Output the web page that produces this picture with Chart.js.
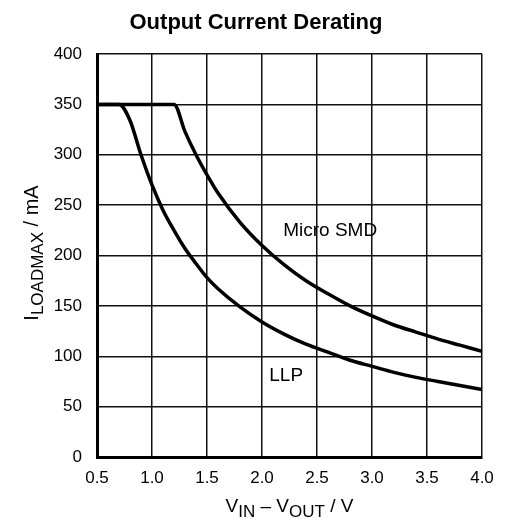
<!DOCTYPE html>
<html>
<head>
<meta charset="utf-8">
<script src="https://cdn.jsdelivr.net/npm/chart.js@4/dist/chart.umd.min.js"></script>
<style>
  html, body { margin: 0; padding: 0; background: #fff; }
  #wrap { width: 506px; height: 521px; }
</style>
</head>
<body>
<div id="wrap"><canvas id="derating"></canvas></div>
<script>
// values (V, mA)
const llpV   = [0.5, 0.7, 0.8, 0.9, 1.0, 1.1, 1.2, 1.3, 1.4, 1.5, 1.6, 1.8, 2.0, 2.2, 2.4, 2.6, 2.8, 3.0, 3.2, 3.4, 3.6, 3.8, 4.0];
const llpI   = [350, 350, 334, 300, 270, 245, 225, 207, 192, 178, 167, 149, 134, 122, 112, 104, 96, 90, 84, 79, 75, 71, 67];
const smdV   = [0.5, 1.2, 1.3, 1.4, 1.5, 1.6, 1.8, 2.0, 2.2, 2.4, 2.6, 2.8, 3.0, 3.2, 3.4, 3.6, 3.8, 4.0];
const smdI   = [350, 350, 323, 300, 280, 262, 233, 210, 191, 175, 162, 150, 140, 131, 124, 117, 111, 105];
const xTicks = [0.5, 1.0, 1.5, 2.0, 2.5, 3.0, 3.5, 4.0];
const yTicks = [0, 50, 100, 150, 200, 250, 300, 350, 400];

const FONT = "'Liberation Sans', Arial, Helvetica, sans-serif";

const toXY = (xs, ys) => xs.map((x, i) => ({ x: x, y: ys[i] }));

// text with subscripts: [text, isSub] pieces, drawn centered on x, baseline at 0
function drawRich(ctx, parts, size, subSize, drop) {
  let total = 0;
  parts.forEach(p => {
    ctx.font = (p[1] ? subSize : size) + "px " + FONT;
    total += ctx.measureText(p[0]).width;
  });
  let x = -total / 2;
  ctx.textAlign = "left";
  ctx.textBaseline = "alphabetic";
  parts.forEach(p => {
    ctx.font = (p[1] ? subSize : size) + "px " + FONT;
    ctx.fillText(p[0], x, p[1] ? drop : 0);
    x += ctx.measureText(p[0]).width;
  });
}

const labelsPlugin = {
  id: "labels",
  afterDraw(chart) {
    const ctx = chart.ctx;
    const xs = chart.scales.x, ys = chart.scales.y;
    const area = chart.chartArea;
    ctx.save();
    ctx.fillStyle = "#000";

    // title
    ctx.font = "bold 22px " + FONT;
    ctx.textAlign = "center";
    ctx.textBaseline = "alphabetic";
    ctx.fillText("Output Current Derating", 256, 29);

    // curve names
    ctx.font = "19px " + FONT;
    ctx.textBaseline = "middle";
    ctx.fillText("Micro SMD", xs.getPixelForValue(2.62), ys.getPixelForValue(225));
    ctx.fillText("LLP", xs.getPixelForValue(2.22), ys.getPixelForValue(81));

    // x axis title
    ctx.save();
    ctx.translate((area.left + area.right) / 2, 512);
    drawRich(ctx, [["V", false], ["IN", true], [" \u2013 V", false], ["OUT", true], [" / V", false]], 19, 17, 5);
    ctx.restore();

    // y axis title
    ctx.save();
    ctx.translate(38, 253);
    ctx.rotate(-Math.PI / 2);
    drawRich(ctx, [["I", false], ["LOADMAX", true], [" / mA", false]], 20, 17, 5);
    ctx.restore();

    ctx.restore();
  }
};

new Chart(document.getElementById("derating"), {
  type: "scatter",
  data: {
    datasets: [
      {
        label: "Micro SMD",
        data: toXY(smdV, smdI),
        showLine: true,
        borderColor: "#000",
        borderWidth: 3.5,
        pointRadius: 0,
        cubicInterpolationMode: "monotone"
      },
      {
        label: "LLP",
        data: toXY(llpV, llpI),
        showLine: true,
        borderColor: "#000",
        borderWidth: 3.5,
        pointRadius: 0,
        cubicInterpolationMode: "monotone"
      }
    ]
  },
  options: {
    responsive: true,
    maintainAspectRatio: false,
    animation: false,
    layout: { padding: { top: 54, right: 24, left: 0, bottom: 0 } },
    plugins: {
      legend: { display: false },
      tooltip: { enabled: false }
    },
    scales: {
      x: {
        type: "linear",
        min: 0.5,
        max: 4.0,
        afterBuildTicks: s => { s.ticks = xTicks.map(v => ({ value: v })); },
        afterFit: s => { s.height = 64; },
        ticks: {
          color: "#000",
          font: { family: FONT, size: 17 },
          padding: 11,
          maxRotation: 0,
          callback: v => v.toFixed(1)
        },
        grid: { color: "#111", lineWidth: 1.5, drawTicks: false },
        border: { color: "#000", width: 3 }
      },
      y: {
        min: 0,
        max: 400,
        afterBuildTicks: s => { s.ticks = yTicks.map(v => ({ value: v })); },
        afterFit: s => { s.width = 97; },
        ticks: {
          color: "#000",
          font: { family: FONT, size: 17 },
          padding: 15
        },
        grid: { color: "#111", lineWidth: 1.5, drawTicks: false },
        border: { color: "#000", width: 3 }
      }
    }
  },
  plugins: [labelsPlugin]
});
</script>
</body>
</html>
